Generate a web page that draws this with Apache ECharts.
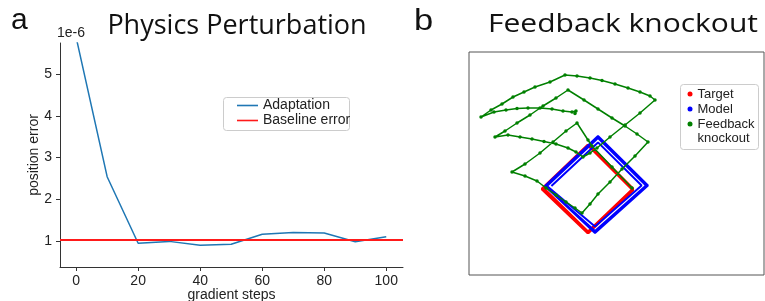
<!DOCTYPE html>
<html><head><meta charset="utf-8">
<script src="https://cdn.jsdelivr.net/npm/echarts@6/dist/echarts.min.js"></script>
<style>html,body{margin:0;padding:0;background:#fff}#c{width:765px;height:301px}</style>
</head><body><div id="c"></div>
<script>
// ---------- Panel a data ----------
const steps = [0, 10, 20, 30, 40, 50, 60, 70, 80, 90, 100];
const adaptation = [5.88, 2.54, 0.945, 0.99, 0.90, 0.92, 1.16, 1.20, 1.19, 0.98, 1.10];
const baselineError = 1.02;
const xTicks = [0, 20, 40, 60, 80, 100];
const yTicks = [1, 2, 3, 4, 5];

// ---------- Panel b data (positions) ----------
const targetXY = [
  [-4.6, 0.0], [0.0, 4.4], [4.5, -0.1], [0.0, -4.4], [-4.6, 0.0],
  [-4.5, 0.1], [0.1, 4.4], [4.5, 0.0], [0.0, -4.3], [-4.5, 0.1]
];
const modelXY = [
  [-3.66, 0.3], [1.0, 4.66], [5.36, 0.35], [0.7, -3.76],
  [-4.1, 0.3], [1.0, 5.1], [5.8, 0.35], [0.7, -4.2],
  [-4.3, 0.3], [1.0, 5.3], [6.0, 0.35], [0.7, -4.4], [-4.3, 0.3]
];
const knockoutXY = [
  [4.4, 0.1], [2.4, 2.2], [0.4, 4.3], [0.0, 4.9], [-1.1, 6.6],
  [-2.2, 5.8], [-3.5, 4.7], [-4.8, 3.6], [-6.3, 2.5], [-7.6, 1.7],
  [-6.3, 1.3], [-5.1, 0.8], [-4.2, 0.1], [-3.2, -0.6], [-2.2, -1.3], [-1.3, -1.9], [-0.6, -2.4],
  [0.2, -1.5], [1.0, -0.5], [2.2, 0.7], [3.4, 2.0], [4.7, 3.3], [6.0, 4.7],
  [4.9, 5.5], [3.7, 6.3], [2.4, 7.1], [1.0, 8.0], [-0.4, 8.9], [-2.0, 9.9],
  [-3.2, 9.1], [-4.5, 8.3], [-5.8, 7.4], [-7.1, 6.6], [-8.3, 5.8], [-9.3, 5.2],
  [-8.0, 5.4], [-6.8, 5.2], [-5.6, 5.0], [-4.4, 4.75], [-3.2, 4.5], [-2.0, 4.1], [-1.2, 3.7], [-0.5, 3.2],
  [0.2, 3.6], [0.9, 4.1], [2.2, 5.2], [3.7, 6.4], [5.2, 7.6], [6.7, 8.9],
  [6.2, 9.3], [5.2, 9.7], [4.0, 10.1], [2.7, 10.5], [1.4, 10.85], [0.2, 11.1], [-1.1, 11.3], [-2.3, 11.4],
  [-3.8, 10.7], [-5.3, 10.2], [-6.4, 9.7], [-7.5, 9.2], [-8.6, 8.5], [-9.7, 7.9], [-10.7, 7.2],
  [-9.4, 7.7], [-8.2, 7.9], [-7.1, 8.05], [-6.0, 8.1], [-4.8, 8.1], [-3.6, 8.0], [-2.5, 7.8], [-1.6, 7.7],
  [-1.2, 7.8], [-1.3, 7.55]
];

const SANS = '"Liberation Sans", Arial, sans-serif';
const TITLE = '"Open Sans", "Noto Sans", sans-serif';
const chart = echarts.init(document.getElementById('c'), null, {renderer: 'canvas'});

chart.setOption({
  animation: false,
  backgroundColor: '#fff',
  grid: [
    {left: 60, top: 43, width: 343, height: 224, containLabel: false, outerBoundsMode: 'none'},
    {left: 469, top: 52, width: 295, height: 223, containLabel: false, outerBoundsMode: 'none',
     show: true, borderColor: '#555', borderWidth: 1, backgroundColor: 'transparent'}
  ],
  xAxis: [
    {
      gridIndex: 0, type: 'value', min: -5.2, max: 105.4,
      name: 'gradient steps', nameLocation: 'middle', nameGap: 21, nameMoveOverlap: false,
      nameTextStyle: {fontFamily: SANS, fontSize: 14, color: '#222'},
      axisLine: {show: true, onZero: false, lineStyle: {color: '#333', width: 1}},
      axisTick: {show: true, inside: false, length: 4, customValues: xTicks, lineStyle: {color: '#333'}},
      axisLabel: {show: true, customValues: xTicks, margin: 7, fontFamily: SANS, fontSize: 14, color: '#222'},
      splitLine: {show: false}
    },
    {
      gridIndex: 1, type: 'value', min: -11.9, max: 17.6,
      axisLine: {show: false}, axisTick: {show: false}, axisLabel: {show: false}, splitLine: {show: false}
    }
  ],
  yAxis: [
    {
      gridIndex: 0, type: 'value', min: 0.376, max: 5.744,
      name: 'position error', nameLocation: 'middle', nameGap: 19, nameRotate: 90, nameMoveOverlap: false,
      nameTextStyle: {fontFamily: SANS, fontSize: 14, color: '#222'},
      axisLine: {show: true, onZero: false, lineStyle: {color: '#333', width: 1}},
      axisTick: {show: true, inside: false, length: 4, customValues: yTicks, lineStyle: {color: '#333'}},
      axisLabel: {show: true, customValues: yTicks, margin: 8, fontFamily: SANS, fontSize: 14, color: '#222'},
      splitLine: {show: false}
    },
    {
      gridIndex: 1, type: 'value', min: -8.6, max: 13.7,
      axisLine: {show: false}, axisTick: {show: false}, axisLabel: {show: false}, splitLine: {show: false}
    }
  ],
  legend: [
    {
      left: 237, top: 98, padding: 0, orient: 'vertical', itemGap: 0, itemWidth: 21, itemHeight: 1.6,
      icon: 'rect',
      data: ['Adaptation', 'Baseline error'],
      textStyle: {fontFamily: SANS, fontSize: 14, color: '#222', lineHeight: 15}
    },
    {
      left: 687.5, top: 86.5, padding: 0, orient: 'vertical', itemGap: 0, itemWidth: 5, itemHeight: 5, icon: 'circle',
      data: ['Target', 'Model', 'Feedback knockout'],
      formatter: n => n === 'Feedback knockout' ? 'Feedback' : n,
      textStyle: {fontFamily: SANS, fontSize: 13, color: '#222', lineHeight: 15}
    }
  ],
  graphic: [
    {type: 'rect', z: 1, shape: {x: 223.5, y: 97.5, width: 126, height: 33, r: 3}, style: {fill: '#fff', stroke: '#ccc', lineWidth: 1}},
    {type: 'rect', z: 1, shape: {x: 680.5, y: 84.5, width: 78, height: 65, r: 3}, style: {fill: '#fff', stroke: '#ccc', lineWidth: 1}},
    {type: 'text', z: 10, x: 697.5, y: 138.5, style: {text: 'knockout', font: '13px ' + SANS, fill: '#222', textVerticalAlign: 'middle'}},
    {type: 'text', x: 57, y: 33, style: {text: '1e-6', font: '14px ' + SANS, fill: '#222', textVerticalAlign: 'middle'}},
    {type: 'text', x: 11, y: 21, style: {text: 'a', font: '30px ' + SANS, fill: '#111', textVerticalAlign: 'middle'}},
    {type: 'text', x: 414, y: 22, scaleX: 1.15, style: {text: 'b', font: '30px ' + SANS, fill: '#111', textVerticalAlign: 'middle'}},
    {type: 'text', x: 237, y: 26.5, style: {text: 'Physics Perturbation', font: '27px ' + TITLE, fill: '#111', textAlign: 'center', textVerticalAlign: 'middle'}},
    {type: 'text', x: 623, y: 24.5, scaleX: 1.2, style: {text: 'Feedback knockout', font: '25px ' + TITLE, fill: '#111', textAlign: 'center', textVerticalAlign: 'middle'}}
  ],
  series: [
    {
      name: 'Adaptation', type: 'line', xAxisIndex: 0, yAxisIndex: 0,
      data: steps.map((s, i) => [s, adaptation[i]]),
      symbol: 'none', clip: true,
      lineStyle: {color: '#1f77b4', width: 1.5}, itemStyle: {color: '#1f77b4'}
    },
    {
      name: 'Baseline error', type: 'line', xAxisIndex: 0, yAxisIndex: 0, data: [],
      symbol: 'none',
      lineStyle: {color: '#ff1a1a', width: 1.8}, itemStyle: {color: '#ff1a1a'},
      markLine: {silent: true, symbol: 'none', label: {show: false},
        lineStyle: {color: '#ff1a1a', width: 1.8, type: 'solid'},
        data: [{yAxis: baselineError}]}
    },
    {
      name: 'Target', type: 'line', xAxisIndex: 1, yAxisIndex: 1, data: targetXY,
      showSymbol: false, symbol: 'circle',
      lineStyle: {color: '#ff0000', width: 3}, itemStyle: {color: '#ff0000'}
    },
    {
      name: 'Model', type: 'line', xAxisIndex: 1, yAxisIndex: 1, data: modelXY,
      showSymbol: false, symbol: 'circle',
      lineStyle: {color: '#0000ff', width: 2}, itemStyle: {color: '#0000ff'}
    },
    {
      name: 'Feedback knockout', type: 'line', xAxisIndex: 1, yAxisIndex: 1, data: knockoutXY,
      showSymbol: true, symbol: 'circle', symbolSize: 3.5,
      lineStyle: {color: '#008000', width: 1.5}, itemStyle: {color: '#008000'}
    }
  ]
});
</script></body></html>
